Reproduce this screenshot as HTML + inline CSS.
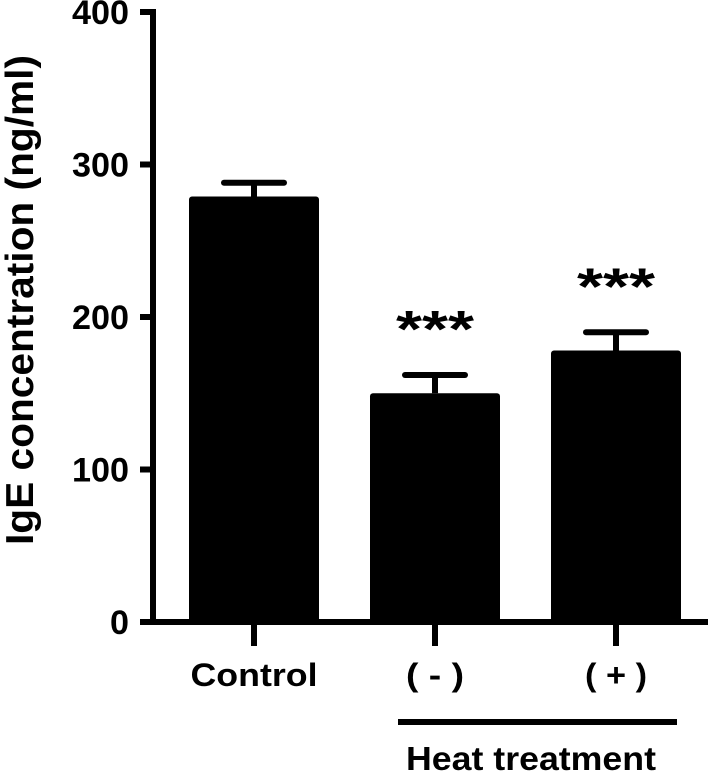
<!DOCTYPE html>
<html><head><meta charset="utf-8"><style>
body{margin:0;background:#fff}
svg text{font-family:"Liberation Sans",Arial,sans-serif;font-weight:bold;fill:#000}
</style></head><body>
<svg width="708" height="771" viewBox="0 0 708 771">
<g id="chart"></g>
</svg>
<script>
const categories=["Control","( - )","( + )"];
const values=[279,150,178];
const errors=[9,12,12];
const sig=["","***","***"];
const yTicks=[0,100,200,300,400];
const X0=150, Y0=622, PXU=1.525;
const centers=[254,435,616];
const labelW=[127,58,62];
const BW=130;
function y(v){return Y0-v*PXU;}
const ns="http://www.w3.org/2000/svg";
const g=document.getElementById('chart');
function mk(t,a){const e=document.createElementNS(ns,t);for(const k in a)e.setAttribute(k,a[k]);g.appendChild(e);return e;}
categories.forEach((c,i)=>{
  const cx=centers[i];
  const eb=mk('line',{x1:cx,x2:cx,y1:y(values[i]),y2:y(values[i]+errors[i]),stroke:'#000','stroke-width':6});
  
  
  const cap=mk('line',{x1:cx-30,x2:cx+30,y1:y(values[i]+errors[i]),y2:y(values[i]+errors[i]),stroke:'#000','stroke-width':6,'stroke-linecap':'round'});
  
  
  const b=mk('rect',{x:cx-BW/2,y:y(values[i]),width:BW,height:Y0-y(values[i]),rx:3,fill:'#000'});
  
  
  const tk=mk('line',{x1:cx,x2:cx,y1:Y0,y2:Y0+24,stroke:'#000','stroke-width':6});
  
  
  const lb=mk('text',{x:cx,y:686,'text-anchor':'middle','font-size':32,textLength:labelW[i],lengthAdjust:'spacingAndGlyphs'});
  lb.textContent=c;
  
  
  if(sig[i]){
    const s=mk('text',{x:cx,y:y(values[i]+errors[i])-28,'text-anchor':'middle','font-size':52,textLength:78,lengthAdjust:'spacingAndGlyphs'});
    s.textContent=sig[i];
    
    
  }
});
yTicks.forEach(v=>{
  const t=mk('line',{x1:X0-10,x2:X0,y1:y(v),y2:y(v),stroke:'#000','stroke-width':6});
  
  
  const l=mk('text',{x:X0-21,y:y(v)+12,'text-anchor':'end','font-size':34,textLength:String(v).length*19,lengthAdjust:'spacingAndGlyphs'});
  l.textContent=v;
  
  
});
const ya=mk('line',{x1:X0+3,x2:X0+3,y1:y(400)-3,y2:Y0+3,stroke:'#000','stroke-width':6});


const xa=mk('line',{x1:X0-10,x2:708,y1:Y0,y2:Y0,stroke:'#000','stroke-width':6});


const yt=mk('text',{x:0,y:0,'text-anchor':'middle','font-size':39,textLength:490,lengthAdjust:'spacingAndGlyphs',transform:'translate(33,300) rotate(-90)'});
yt.textContent='IgE concentration (ng/ml)';


const hl=mk('line',{x1:398,x2:677,y1:722,y2:722,stroke:'#000','stroke-width':6});


const ht=mk('text',{x:531,y:770,'text-anchor':'middle','font-size':33,textLength:250,lengthAdjust:'spacingAndGlyphs'});
ht.textContent='Heat treatment';


</script>
</body></html>
